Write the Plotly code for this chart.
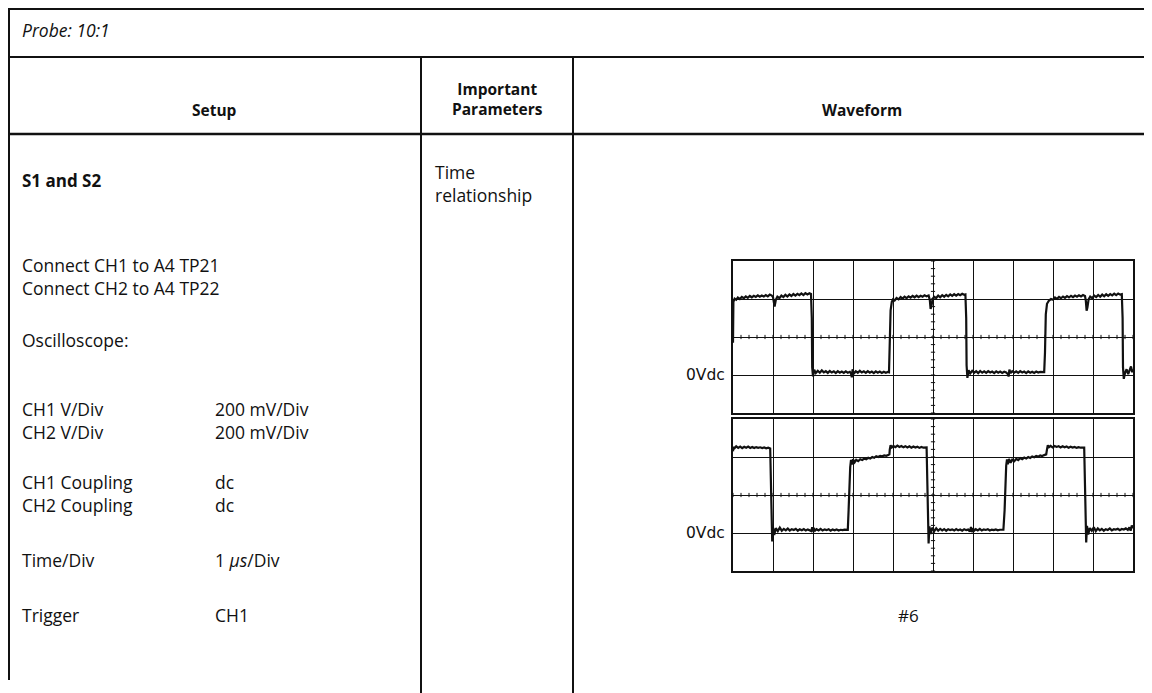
import plotly.graph_objects as go
import numpy as np

# figure size (page has an 8px body margin; coordinates below are screen pixels)
W, H = 1144, 685
OFF = 8

# ---------------- data: oscilloscope traces (time in µs, amplitude in mV) -------------
ch1_time = [
    0.00, 0.01, 0.04, 0.08, 0.12, 0.17, 0.22, 0.27, 0.32, 0.37,
    0.42, 0.47, 0.52, 0.57, 0.62, 0.67, 0.72, 0.77, 0.82, 0.87,
    0.92, 0.97, 1.00, 1.02, 1.04, 1.07, 1.11, 1.16, 1.21, 1.26,
    1.31, 1.36, 1.41, 1.46, 1.51, 1.56, 1.61, 1.66, 1.71, 1.76,
    1.81, 1.86, 1.91, 1.95,
    1.97, 1.98, 2.00, 2.03, 2.07, 2.12, 2.17, 2.22, 2.27, 2.32,
    2.37, 2.42, 2.47, 2.52, 2.57, 2.62, 2.67, 2.72, 2.77, 2.82,
    2.87, 2.92, 2.95, 2.97, 2.99, 3.02, 3.07, 3.12, 3.17, 3.22,
    3.27, 3.32, 3.37, 3.42, 3.47, 3.52, 3.57, 3.62, 3.67, 3.72,
    3.77, 3.82, 3.87, 3.90,
    3.92, 3.94, 3.97, 4.00, 4.04, 4.09, 4.14, 4.19, 4.24, 4.29,
    4.34, 4.39, 4.44, 4.49, 4.54, 4.59, 4.64, 4.69, 4.74, 4.79,
    4.84, 4.89, 4.92, 4.94, 4.96, 4.99, 5.03, 5.08, 5.13, 5.18,
    5.23, 5.28, 5.33, 5.38, 5.43, 5.48, 5.53, 5.58, 5.63, 5.68,
    5.73, 5.78, 5.81,
    5.83, 5.84, 5.86, 5.89, 5.93, 5.98, 6.03, 6.08, 6.13, 6.18,
    6.23, 6.28, 6.33, 6.38, 6.43, 6.48, 6.53, 6.58, 6.63, 6.68,
    6.73, 6.78, 6.83, 6.87, 6.89, 6.91, 6.94, 6.98, 7.03, 7.08,
    7.13, 7.18, 7.23, 7.28, 7.33, 7.38, 7.43, 7.48, 7.53, 7.58,
    7.63, 7.68, 7.73, 7.78,
    7.80, 7.82, 7.85, 7.90, 7.95, 8.00, 8.05, 8.10, 8.15, 8.20,
    8.25, 8.30, 8.35, 8.40, 8.45, 8.50, 8.55, 8.60, 8.65, 8.70,
    8.75, 8.80, 8.82, 8.84, 8.86, 8.89, 8.93, 8.98, 9.03, 9.08,
    9.13, 9.18, 9.23, 9.28, 9.33, 9.38, 9.43, 9.48, 9.53, 9.58,
    9.63, 9.68, 9.72,
    9.74, 9.75, 9.77, 9.80, 9.84, 9.88, 9.92, 9.95, 9.98, 10.00,
]
ch1_mv = [
    170, 385, 402, 396, 408, 400, 411, 404, 414, 406,
    416, 409, 417, 411, 419, 412, 418, 413, 421, 414,
    423, 418, 410, 372, 360, 395, 412, 404, 418, 410,
    422, 413, 424, 416, 426, 418, 427, 420, 429, 421,
    431, 424, 430, 426,
    300, 40, -8, 28, 10, 22, 12, 24, 14, 20,
    11, 21, 13, 19, 10, 20, 12, 18, 11, 19,
    12, 17, 8, -12, 30, 6, 20, 12, 22, 13,
    19, 11, 20, 12, 18, 10, 19, 12, 18, 11,
    17, 12, 16, 14,
    150, 340, 385, 398, 392, 405, 398, 410, 402, 412,
    405, 414, 407, 416, 409, 418, 410, 417, 412, 420,
    414, 418, 395, 348, 362, 400, 412, 405, 418, 409,
    420, 412, 422, 414, 424, 416, 425, 418, 426, 420,
    427, 422, 424,
    300, 50, -15, 25, 8, 22, 12, 20, 10, 21,
    12, 19, 11, 20, 13, 18, 10, 19, 12, 18,
    11, 17, 13, 5, -8, 28, 10, 20, 12, 19,
    11, 20, 13, 18, 10, 19, 12, 17, 11, 18,
    13, 16, 14, 15,
    120, 320, 375, 392, 400, 396, 408, 401, 411, 404,
    413, 406, 415, 408, 417, 410, 418, 412, 420, 414,
    421, 416, 392, 338, 355, 398, 412, 404, 418, 410,
    421, 412, 423, 414, 425, 417, 426, 419, 428, 420,
    429, 423, 425,
    300, 40, -20, 10, 30, 5, 25, 45, 15, 30,
]

ch2_time = [
    0.00, 0.01, 0.04, 0.08, 0.13, 0.18, 0.23, 0.28, 0.33, 0.38,
    0.43, 0.48, 0.53, 0.58, 0.63, 0.68, 0.73, 0.78, 0.83, 0.88, 0.93,
    0.95, 0.96, 0.98, 1.00, 1.03, 1.07, 1.12, 1.17, 1.22, 1.27,
    1.32, 1.37, 1.42, 1.47, 1.52, 1.57, 1.62, 1.67, 1.72, 1.77,
    1.82, 1.87, 1.92, 1.96, 1.98, 2.00, 2.02, 2.05, 2.09, 2.14,
    2.19, 2.24, 2.29, 2.34, 2.39, 2.44, 2.49, 2.54, 2.59, 2.64,
    2.69, 2.74, 2.79, 2.84, 2.87,
    2.89, 2.91, 2.93, 2.95, 2.97, 3.00, 3.04, 3.08, 3.13, 3.18,
    3.23, 3.28, 3.33, 3.38, 3.43, 3.48, 3.53, 3.58, 3.63, 3.68,
    3.73, 3.78, 3.83, 3.88, 3.91,
    3.92, 3.94, 3.97, 4.01, 4.06, 4.11, 4.16, 4.21, 4.26, 4.31,
    4.36, 4.41, 4.46, 4.51, 4.56, 4.61, 4.66, 4.71, 4.76, 4.81, 4.84,
    4.86, 4.87, 4.89, 4.91, 4.94, 4.98, 5.03, 5.08, 5.13, 5.18,
    5.23, 5.28, 5.33, 5.38, 5.43, 5.48, 5.53, 5.58, 5.63, 5.68,
    5.73, 5.78, 5.83, 5.88, 5.92, 5.95, 5.97, 6.00, 6.03, 6.07,
    6.12, 6.17, 6.22, 6.27, 6.32, 6.37, 6.42, 6.47, 6.52, 6.57,
    6.62, 6.67, 6.72, 6.76,
    6.79, 6.81, 6.83, 6.85, 6.87, 6.90, 6.94, 6.98, 7.03, 7.08,
    7.13, 7.18, 7.23, 7.28, 7.33, 7.38, 7.43, 7.48, 7.53, 7.58,
    7.63, 7.68, 7.73, 7.78, 7.83,
    7.85, 7.87, 7.90, 7.94, 7.99, 8.04, 8.09, 8.14, 8.19, 8.24,
    8.29, 8.34, 8.39, 8.44, 8.49, 8.54, 8.59, 8.64, 8.69, 8.74, 8.78,
    8.80, 8.81, 8.83, 8.85, 8.88, 8.92, 8.97, 9.02, 9.07, 9.12,
    9.17, 9.22, 9.27, 9.32, 9.37, 9.42, 9.47, 9.52, 9.57, 9.62,
    9.67, 9.72, 9.77, 9.82, 9.87, 9.91, 9.94, 9.97, 10.00,
]
ch2_mv = [
    430, 452, 446, 456, 448, 455, 447, 454, 449, 455,
    448, 453, 447, 452, 448, 451, 447, 450, 446, 449, 445,
    250, 20, -45, 30, -10, 25, 10, 28, 12, 22,
    14, 24, 13, 20, 16, 22, 12, 20, 15, 21,
    13, 19, 16, 10, 30, 8, 26, 12, 20, 14,
    22, 13, 19, 15, 20, 12, 18, 14, 19, 13,
    17, 15, 18, 16, 17,
    120, 320, 345, 385, 360, 388, 372, 385, 378, 388,
    384, 392, 388, 396, 392, 400, 396, 404, 400, 406,
    404, 408, 406, 411, 414,
    440, 462, 450, 458, 452, 460, 453, 458, 451, 457,
    450, 456, 449, 455, 450, 454, 448, 453, 449, 452, 450,
    250, 10, -55, 35, -5, 28, 10, 25, 12, 22,
    14, 21, 12, 20, 15, 19, 13, 21, 14, 18,
    12, 20, 15, 18, 8, 32, 5, 25, 12, 20,
    14, 22, 13, 19, 16, 20, 13, 18, 15, 19,
    14, 17, 16, 17,
    120, 330, 355, 388, 362, 390, 370, 386, 378, 390,
    384, 394, 388, 397, 392, 400, 395, 403, 399, 405,
    402, 408, 405, 410, 414,
    440, 462, 452, 459, 451, 458, 453, 457, 450, 456,
    451, 455, 449, 454, 450, 453, 448, 452, 449, 451, 449,
    250, 10, -50, 38, -8, 26, 12, 30, 10, 24,
    14, 22, 12, 20, 16, 24, 14, 20, 18, 22,
    15, 21, 18, 24, 16, 30, 12, 40, 25,
]

# ---------------- data: table text -------------
probe_text = "Probe: 10:1"
col_headers = ["Setup", "Important<br>Parameters", "Waveform"]
section_title = "S1 and S2"
parameter_text = "Time<br>relationship"
# setup groups: each group is one block of lines (label column / value column)
setup_labels = [["Connect CH1 to A4 TP21", "Connect CH2 to A4 TP22"],
                ["Oscilloscope:"],
                ["CH1 V/Div", "CH2 V/Div"],
                ["CH1 Coupling", "CH2 Coupling"],
                ["Time/Div"],
                ["Trigger"]]
setup_values = [[],
                [],
                ["200 mV/Div", "200 mV/Div"],
                ["dc", "dc"],
                ["1 <i>μs</i>/Div"],
                ["CH1"]]
zero_label = "0Vdc"
waveform_id = "#6"
time_range = [0, 10]        # µs, 1 µs/div
volt_range = [-200, 600]    # mV, 200 mV/div


# ---------------- layout helpers (screen pixel -> paper fraction) -------------
def px(x):
    return (x - OFF) / W


def py(y):
    return 1 - (y - OFF) / H


FONT = "Open Sans"
BODY = 17.5
HEAD = 15.5
ink = "#111111"

fig = go.Figure()

scopes = [
    dict(x0=733, x1=1133, y0=261, y1=413),
    dict(x0=733, x1=1133, y0=419, y1=571),
]

traces = [(ch1_time, ch1_mv), (ch2_time, ch2_mv)]
for i, (sc, (t, v)) in enumerate(zip(scopes, traces)):
    xa = "x" if i == 0 else f"x{i+1}"
    ya = "y" if i == 0 else f"y{i+1}"
    # minor graticule ticks on the centre lines
    mt = np.arange(time_range[0], time_range[1] + 1e-9, 0.2)
    fig.add_trace(go.Scatter(x=mt, y=[sum(volt_range) / 2] * len(mt), mode="markers",
                             marker=dict(symbol="line-ns", size=3, line=dict(width=1, color=ink)),
                             xaxis=xa, yaxis=ya, hoverinfo="skip", showlegend=False))
    mv = np.arange(volt_range[0], volt_range[1] + 1e-9, 40)
    fig.add_trace(go.Scatter(x=[sum(time_range) / 2] * len(mv), y=mv, mode="markers",
                             marker=dict(symbol="line-ew", size=3, line=dict(width=1, color=ink)),
                             xaxis=xa, yaxis=ya, hoverinfo="skip", showlegend=False))
    fig.add_trace(go.Scatter(x=t, y=v, mode="lines", line=dict(color=ink, width=2.2),
                             xaxis=xa, yaxis=ya, hoverinfo="skip", showlegend=False))
    axis_common = dict(showgrid=True, gridcolor=ink, gridwidth=1, showline=True,
                       linecolor=ink, linewidth=1.5, mirror=True, showticklabels=False,
                       zeroline=False, ticks="", fixedrange=True)
    fig.layout[("xaxis" if i == 0 else f"xaxis{i+1}")] = dict(
        domain=[px(sc["x0"]), px(sc["x1"])], range=time_range, dtick=1, tick0=0,
        anchor=ya, **axis_common)
    fig.layout[("yaxis" if i == 0 else f"yaxis{i+1}")] = dict(
        domain=[py(sc["y1"]), py(sc["y0"])], range=volt_range, dtick=200, tick0=0,
        anchor=xa, **axis_common)
    fig.add_annotation(text=zero_label, x=px(sc["x0"] - 6), xref="paper", y=0, yref=ya,
                       xanchor="right", yanchor="middle", showarrow=False,
                       font=dict(family="DejaVu Sans", size=15.5, color=ink))

# table rules
line_style = dict(color=ink, width=2)
shapes = [
    dict(type="line", x0=px(8), x1=px(1152), y0=py(9), y1=py(9)),
    dict(type="line", x0=px(8), x1=px(1152), y0=py(57), y1=py(57)),
    dict(type="line", x0=px(8), x1=px(1152), y0=py(134), y1=py(134),
         line=dict(color=ink, width=2.5)),
    dict(type="line", x0=px(9), x1=px(9), y0=py(8), y1=py(680)),
    dict(type="line", x0=px(421), x1=px(421), y0=py(57), y1=py(693)),
    dict(type="line", x0=px(573), x1=px(573), y0=py(57), y1=py(693)),
]
for s in shapes:
    s.setdefault("line", line_style)
    s.update(xref="paper", yref="paper", layer="above")
    fig.add_shape(**s)


def text(t, x, y, size=BODY, bold=False, italic=False, anchor="left", family=FONT):
    fig.add_annotation(text=t, x=px(x), y=py(y), xref="paper", yref="paper",
                       xanchor=anchor, yanchor="middle", showarrow=False, align=anchor,
                       font=dict(family=family, size=size, color=ink,
                                 weight="bold" if bold else "normal",
                                 style="italic" if italic else "normal"))


LX, VX, PX = 20, 213, 433
text(probe_text, LX, 30, size=17.5, italic=True)
text(col_headers[0], 214, 110, size=HEAD, bold=True, anchor="center")
text(col_headers[1], 497, 99, size=HEAD, bold=True, anchor="center")
text(col_headers[2], 862, 110, size=HEAD, bold=True, anchor="center")
text(section_title, LX, 180, size=17, bold=True)
text(parameter_text, PX, 184, size=17.5)
group_y = [276, 340, 421, 494, 560, 615]   # vertical centre of each block
for labs, vals, y in zip(setup_labels, setup_values, group_y):
    text("<br>".join(labs), LX, y)
    if vals:
        text("<br>".join(vals), VX, y)
text(waveform_id, 908, 615, size=17, anchor="center")

fig.update_layout(width=W, height=H, margin=dict(l=0, r=0, t=0, b=0),
                  paper_bgcolor="white", plot_bgcolor="white", showlegend=False)

fig.write_html("out.html")
